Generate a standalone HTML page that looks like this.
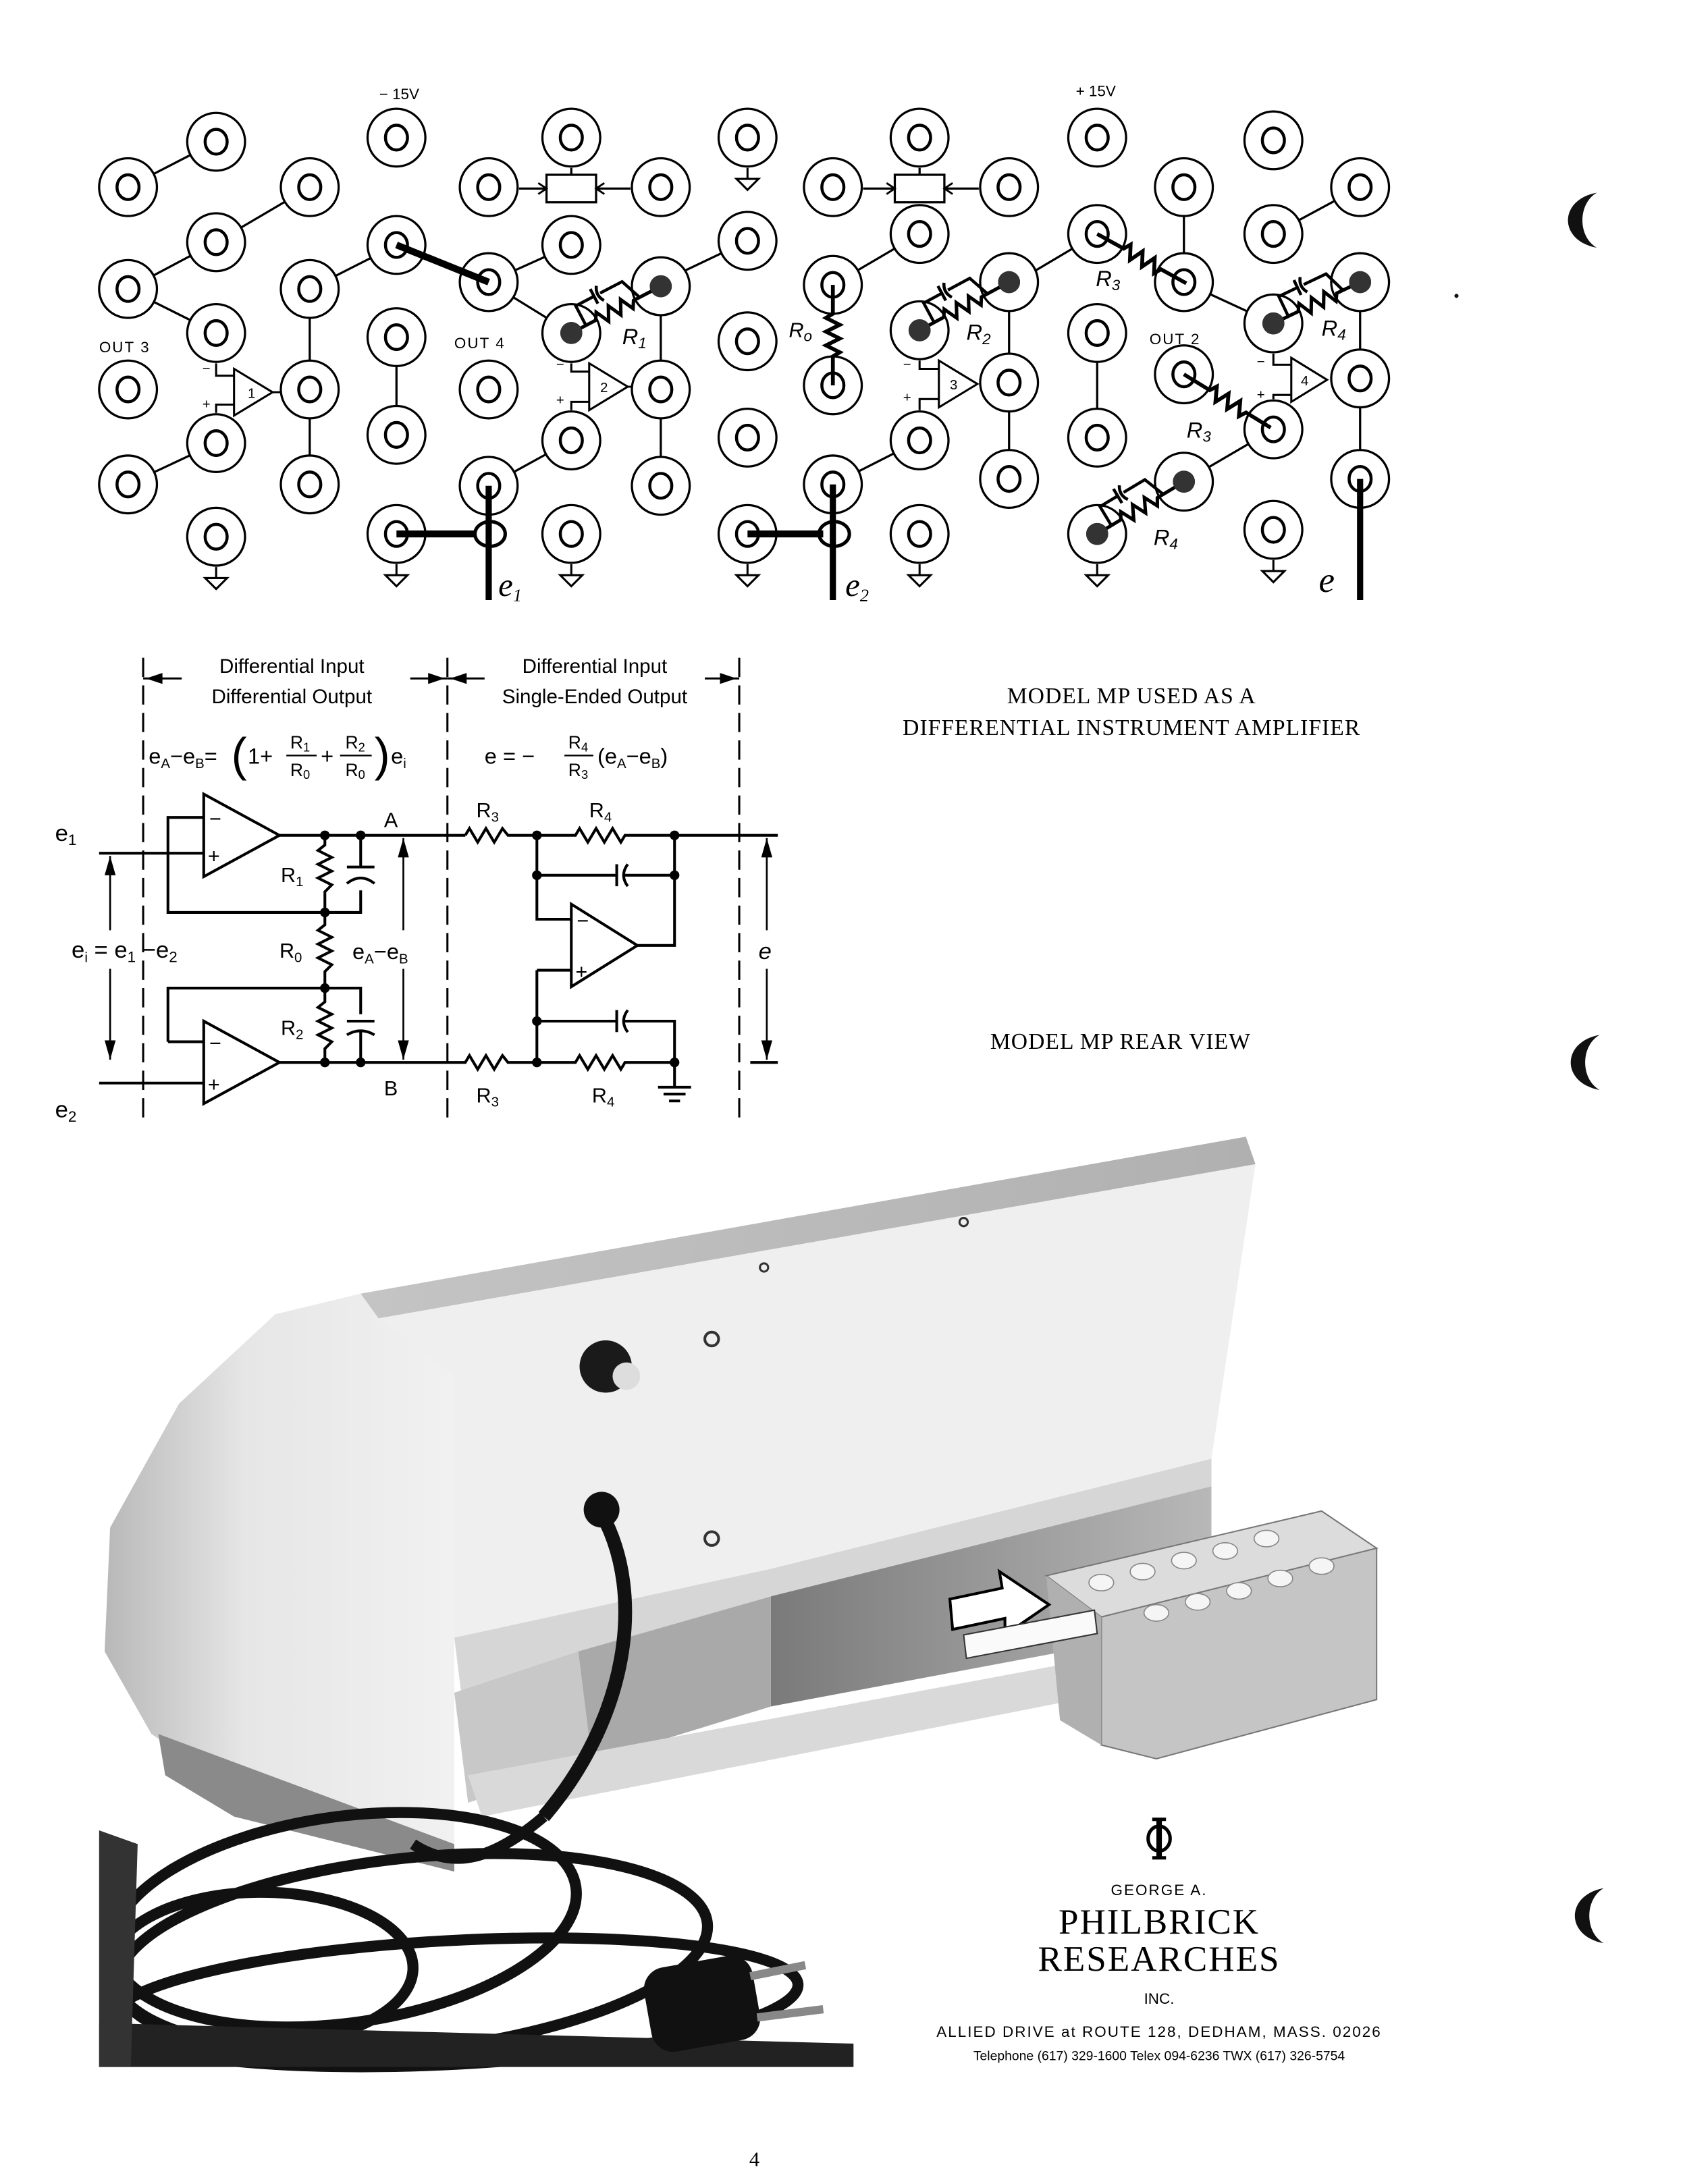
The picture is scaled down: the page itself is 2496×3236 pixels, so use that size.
<!DOCTYPE html>
<html><head><meta charset="utf-8"><style>
html,body{margin:0;padding:0;background:#fff}
svg{display:block}
text{font-family:"Liberation Sans",sans-serif}
text.sf{font-family:"Liberation Serif",serif}
</style></head><body>
<svg width="2496" height="3236" viewBox="0 0 1224 1587" preserveAspectRatio="none" xmlns="http://www.w3.org/2000/svg">
<defs>
<g id="j"><circle r="21" fill="#fff" stroke="#000" stroke-width="1.6"/><ellipse rx="8" ry="9" fill="none" stroke="#000" stroke-width="2.2"/></g>
<g id="jd"><circle r="21" fill="#fff" stroke="#000" stroke-width="1.6"/><circle r="8" fill="#333"/></g>
<g id="gnd"><line x1="0" y1="0" x2="0" y2="8" stroke="#000" stroke-width="1.5"/><path d="M-8,8 L8,8 L0,16 Z" fill="#fff" stroke="#000" stroke-width="1.5"/></g>
<g id="rc"><path d="M0,0 L20,0 L23,-5 L28,5 L33,-5 L38,5 L43,-5 L48,5 L51,0 L72,0" fill="none" stroke="#000" stroke-width="2.5"/>
<path d="M12,0 L12,-16 L27,-16 M27,-22 L27,-10 M32,-22 Q28,-16 32,-10 M32,-16 L50,-16 L56,0" fill="none" stroke="#000" stroke-width="2.2"/></g>
<g id="rz"><path d="M0,0 L22,0 L25,-5 L30,5 L35,-5 L40,5 L45,-5 L50,5 L53,0 L74,0" fill="none" stroke="#000" stroke-width="2.8"/></g>
</defs>

<!-- ===== TOP PANEL ===== -->
<text x="290" y="72" font-size="11" text-anchor="middle">− 15V</text>
<text x="796" y="70" font-size="11" text-anchor="middle">+ 15V</text>
<g stroke="#000" stroke-width="1.6">
<line x1="93" y1="136" x2="157" y2="103"/><line x1="93" y1="210" x2="157" y2="176"/><line x1="157" y1="176" x2="225" y2="136"/>
<line x1="93" y1="210" x2="157" y2="242"/><line x1="93" y1="352" x2="157" y2="322"/><line x1="225" y1="210" x2="288" y2="178"/>
<line x1="225" y1="210" x2="225" y2="352"/><line x1="288" y1="245" x2="288" y2="316"/><line x1="355" y1="205" x2="415" y2="178"/>
<line x1="355" y1="205" x2="415" y2="242"/><line x1="355" y1="353" x2="415" y2="320"/><line x1="480" y1="205" x2="543" y2="175"/>
<line x1="480" y1="208" x2="480" y2="353"/>
<line x1="605" y1="352" x2="668" y2="320"/><line x1="605" y1="207" x2="668" y2="170"/><line x1="733" y1="205" x2="733" y2="348"/>
<line x1="733" y1="208" x2="797" y2="170"/><line x1="860" y1="136" x2="860" y2="205"/><line x1="797" y1="242" x2="797" y2="318"/>
<line x1="925" y1="170" x2="988" y2="136"/><line x1="988" y1="205" x2="988" y2="348"/><line x1="860" y1="205" x2="925" y2="235"/>
<line x1="860" y1="350" x2="925" y2="312"/>
<line x1="377" y1="137" x2="397" y2="137"/><line x1="433" y1="137" x2="458" y2="137"/><line x1="415" y1="122" x2="415" y2="127"/>
<line x1="627" y1="137" x2="650" y2="137"/><line x1="686" y1="137" x2="711" y2="137"/><line x1="668" y1="122" x2="668" y2="127"/>
</g>
<rect x="397" y="127" width="36" height="20" fill="#fff" stroke="#000" stroke-width="1.6"/>
<rect x="650" y="127" width="36" height="20" fill="#fff" stroke="#000" stroke-width="1.6"/>
<path d="M391,133 L397,137 L391,141 M439,133 L433,137 L439,141 M644,133 L650,137 L644,141 M692,133 L686,137 L692,141" fill="none" stroke="#000" stroke-width="1.4"/>

<g>
<use href="#j" x="93" y="136"/><use href="#j" x="93" y="210"/><use href="#j" x="93" y="283"/><use href="#j" x="93" y="352"/>
<use href="#j" x="157" y="103"/><use href="#j" x="157" y="176"/><use href="#j" x="157" y="242"/><use href="#j" x="157" y="322"/><use href="#j" x="157" y="390"/>
<use href="#j" x="225" y="136"/><use href="#j" x="225" y="210"/><use href="#j" x="225" y="283"/><use href="#j" x="225" y="352"/>
<use href="#j" x="288" y="100"/><use href="#j" x="288" y="178"/><use href="#j" x="288" y="245"/><use href="#j" x="288" y="316"/><use href="#j" x="288" y="388"/>
<use href="#j" x="355" y="136"/><use href="#j" x="355" y="205"/><use href="#j" x="355" y="283"/><use href="#j" x="355" y="353"/>
<use href="#j" x="415" y="100"/><use href="#j" x="415" y="178"/><use href="#jd" x="415" y="242"/><use href="#j" x="415" y="320"/><use href="#j" x="415" y="388"/>
<use href="#j" x="480" y="136"/><use href="#jd" x="480" y="208"/><use href="#j" x="480" y="283"/><use href="#j" x="480" y="353"/>
<use href="#j" x="543" y="100"/><use href="#j" x="543" y="175"/><use href="#j" x="543" y="248"/><use href="#j" x="543" y="318"/><use href="#j" x="543" y="388"/>
<use href="#j" x="605" y="136"/><use href="#j" x="605" y="207"/><use href="#j" x="605" y="280"/><use href="#j" x="605" y="352"/>
<use href="#j" x="668" y="100"/><use href="#j" x="668" y="170"/><use href="#jd" x="668" y="240"/><use href="#j" x="668" y="320"/><use href="#j" x="668" y="388"/>
<use href="#j" x="733" y="136"/><use href="#jd" x="733" y="205"/><use href="#j" x="733" y="278"/><use href="#j" x="733" y="348"/>
<use href="#j" x="797" y="100"/><use href="#j" x="797" y="170"/><use href="#j" x="797" y="242"/><use href="#j" x="797" y="318"/><use href="#jd" x="797" y="388"/>
<use href="#j" x="860" y="136"/><use href="#j" x="860" y="205"/><use href="#j" x="860" y="272"/><use href="#jd" x="860" y="350"/>
<use href="#j" x="925" y="102"/><use href="#j" x="925" y="170"/><use href="#jd" x="925" y="235"/><use href="#j" x="925" y="312"/><use href="#j" x="925" y="385"/>
<use href="#j" x="988" y="136"/><use href="#jd" x="988" y="205"/><use href="#j" x="988" y="275"/><use href="#j" x="988" y="348"/>
</g>
<use href="#gnd" x="157" y="412"/><use href="#gnd" x="288" y="410"/><use href="#gnd" x="415" y="410"/><use href="#gnd" x="543" y="122"/>
<use href="#gnd" x="543" y="410"/><use href="#gnd" x="668" y="410"/><use href="#gnd" x="797" y="410"/><use href="#gnd" x="925" y="407"/>

<line x1="288" y1="178" x2="355" y2="205" stroke="#000" stroke-width="5"/>
<line x1="288" y1="388" x2="345" y2="388" stroke="#000" stroke-width="5"/>
<ellipse cx="356" cy="388" rx="11" ry="9" fill="none" stroke="#000" stroke-width="2.5"/>
<line x1="355" y1="353" x2="355" y2="436" stroke="#000" stroke-width="4.5"/>
<line x1="543" y1="388" x2="598" y2="388" stroke="#000" stroke-width="5"/>
<ellipse cx="606" cy="388" rx="11" ry="9" fill="none" stroke="#000" stroke-width="2.5"/>
<line x1="605" y1="352" x2="605" y2="436" stroke="#000" stroke-width="4.5"/>
<line x1="988" y1="348" x2="988" y2="436" stroke="#000" stroke-width="4.5"/>
<text class="sf" x="362" y="433" font-size="24" font-style="italic">e<tspan font-size="13" dy="4">1</tspan></text>
<text class="sf" x="614" y="433" font-size="24" font-style="italic">e<tspan font-size="13" dy="4">2</tspan></text>
<text class="sf" x="958" y="430" font-size="26" font-style="italic">e</text>

<path d="M605,207 L605,228 L600,231 L610,236 L600,241 L610,246 L600,251 L610,256 L605,259 L605,280" fill="none" stroke="#000" stroke-width="2.8"/>
<text x="573" y="245" font-size="15" font-style="italic">R<tspan font-size="11" dy="3">o</tspan></text>

<g transform="translate(415,242) rotate(-27.6)"><use href="#rc"/></g>
<g transform="translate(668,240) rotate(-28.3)"><use href="#rc"/></g>
<g transform="translate(925,235) rotate(-25.5)"><use href="#rc"/></g>
<g transform="translate(797,388) rotate(-31)"><use href="#rc"/></g>
<g transform="translate(797,170) rotate(29)"><use href="#rz"/></g>
<g transform="translate(860,272) rotate(31.6)"><use href="#rz"/></g>
<circle cx="480" cy="208" r="8" fill="#333"/><circle cx="733" cy="205" r="8" fill="#333"/><circle cx="988" cy="205" r="8" fill="#333"/><circle cx="860" cy="350" r="8" fill="#333"/>
<circle cx="415" cy="242" r="8" fill="#333"/><circle cx="668" cy="240" r="8" fill="#333"/><circle cx="925" cy="235" r="8" fill="#333"/><circle cx="797" cy="388" r="8" fill="#333"/>
<g font-size="16" font-style="italic">
<text x="452" y="250">R<tspan font-size="11" dy="3">1</tspan></text>
<text x="702" y="247">R<tspan font-size="11" dy="3">2</tspan></text>
<text x="796" y="208">R<tspan font-size="11" dy="3">3</tspan></text>
<text x="960" y="244">R<tspan font-size="11" dy="3">4</tspan></text>
<text x="862" y="318">R<tspan font-size="11" dy="3">3</tspan></text>
<text x="838" y="396">R<tspan font-size="11" dy="3">4</tspan></text>
</g>

<g fill="#fff" stroke="#000" stroke-width="1.5">
<path d="M170,268 L170,302 L198,285 Z"/><path d="M428,264 L428,298 L456,281 Z"/><path d="M682,262 L682,296 L710,279 Z"/><path d="M938,260 L938,292 L964,276 Z"/>
<path d="M157,264 L157,273 L170,273 M157,300 L157,294 L170,294 M198,285 L204,285" fill="none"/>
<path d="M415,264 L415,270 L428,270 M415,298 L415,292 L428,292 M456,281 L459,281" fill="none"/>
<path d="M668,262 L668,268 L682,268 M668,298 L668,290 L682,290" fill="none"/>
<path d="M925,257 L925,265 L938,265 M925,290 L925,287 L938,287" fill="none"/>
</g>
<g font-size="10"><text x="180" y="289">1</text><text x="436" y="285">2</text><text x="690" y="283">3</text><text x="945" y="280">4</text>
<text x="147" y="271">−</text><text x="147" y="297">+</text><text x="404" y="268">−</text><text x="404" y="294">+</text>
<text x="656" y="268">−</text><text x="656" y="292">+</text><text x="913" y="266">−</text><text x="913" y="290">+</text></g>
<g font-size="11" letter-spacing="1"><text x="72" y="256">OUT 3</text><text x="330" y="253">OUT 4</text><text x="835" y="250">OUT 2</text></g>

<!-- ===== SCHEMATIC ===== -->
<g stroke="#000" stroke-width="1.5" stroke-dasharray="14,6" fill="none">
<line x1="104" y1="478" x2="104" y2="812"/><line x1="325" y1="478" x2="325" y2="812"/><line x1="537" y1="478" x2="537" y2="812"/>
</g>
<g stroke="#000" stroke-width="1.5">
<line x1="104" y1="493" x2="132" y2="493"/><line x1="298" y1="493" x2="325" y2="493"/><line x1="325" y1="493" x2="352" y2="493"/><line x1="512" y1="493" x2="537" y2="493"/>
</g>
<g fill="#000"><path d="M106,493 L118,489 L118,497Z"/><path d="M323,493 L311,489 L311,497Z"/><path d="M327,493 L339,489 L339,497Z"/><path d="M535,493 L523,489 L523,497Z"/></g>
<g font-size="14.5" text-anchor="middle"><text x="212" y="489">Differential Input</text><text x="212" y="511">Differential Output</text>
<text x="432" y="489">Differential Input</text><text x="432" y="511">Single-Ended Output</text></g>
<g font-size="16">
<text x="108" y="555">e<tspan font-size="10" dy="3">A</tspan><tspan dy="-3">−e</tspan><tspan font-size="10" dy="3">B</tspan><tspan dy="-3">=</tspan></text>
<text x="168" y="560" font-size="34">(</text>
<text x="180" y="555">1+</text>
<text x="218" y="544" font-size="13" text-anchor="middle">R<tspan font-size="9" dy="2">1</tspan></text>
<line x1="208" y1="549" x2="230" y2="549" stroke="#000" stroke-width="1.2"/>
<text x="218" y="564" font-size="13" text-anchor="middle">R<tspan font-size="9" dy="2">0</tspan></text>
<text x="233" y="555">+</text>
<text x="258" y="544" font-size="13" text-anchor="middle">R<tspan font-size="9" dy="2">2</tspan></text>
<line x1="247" y1="549" x2="270" y2="549" stroke="#000" stroke-width="1.2"/>
<text x="258" y="564" font-size="13" text-anchor="middle">R<tspan font-size="9" dy="2">0</tspan></text>
<text x="272" y="560" font-size="34">)</text>
<text x="284" y="555">e<tspan font-size="10" dy="3">i</tspan></text>
<text x="352" y="555">e = −</text>
<text x="420" y="544" font-size="13" text-anchor="middle">R<tspan font-size="9" dy="2">4</tspan></text>
<line x1="410" y1="549" x2="431" y2="549" stroke="#000" stroke-width="1.2"/>
<text x="420" y="564" font-size="13" text-anchor="middle">R<tspan font-size="9" dy="2">3</tspan></text>
<text x="434" y="555">(e<tspan font-size="10" dy="3">A</tspan><tspan dy="-3">−e</tspan><tspan font-size="10" dy="3">B</tspan><tspan dy="-3">)</tspan></text>
</g>
<g fill="none" stroke="#000" stroke-width="2">
<path d="M148,577 L148,637 L203,607 Z"/>
<path d="M72,620 L148,620"/>
<path d="M148,594 L122,594 L122,663 L262,663 L262,647"/>
<path d="M203,607 L338,607"/>
<path d="M338,607 L341,602 L347,612 L353,602 L359,612 L365,602 L369,607 L418,607 L421,602 L427,612 L433,602 L439,612 L445,602 L451,612 L454,607 L565,607"/>
<path d="M236,607 L236,614 L231,618 L241,623 L231,628 L241,633 L231,638 L241,643 L236,648 L236,663"/>
<path d="M262,607 L262,630 M252,630 L272,630 M252,642 Q262,634 272,642"/>
<path d="M236,663 L236,672 L231,676 L241,681 L231,686 L241,691 L231,696 L241,701 L236,706 L236,718"/>
<path d="M122,757 L122,718 L262,718 L262,737"/>
<path d="M236,718 L236,728 L231,732 L241,737 L231,742 L241,747 L231,752 L241,757 L236,762 L236,772"/>
<path d="M252,742 L272,742 M252,752 Q262,746 272,752 M262,750 L262,772"/>
<path d="M148,742 L148,802 L203,772 Z"/>
<path d="M122,757 L148,757 M72,787 L148,787"/>
<path d="M203,772 L338,772 L341,767 L347,777 L353,767 L359,777 L365,767 L369,772 L418,772 L421,767 L427,777 L433,767 L439,777 L445,767 L451,777 L454,772 L490,772"/>
<path d="M390,607 L390,668 L415,668 M390,705 L415,705 M390,705 L390,772"/>
<path d="M415,657 L415,717 L463,687 Z"/>
<path d="M463,687 L490,687 L490,607"/>
<path d="M390,636 L448,636 M448,628 L448,644 M456,628 Q450,636 456,644 M454,636 L490,636"/>
<path d="M390,742 L448,742 M448,734 L448,750 M456,734 Q450,742 456,750 M454,742 L490,742 L490,790"/>
<path d="M478,790 L502,790 M482,795 L498,795 M486,800 L494,800"/>
<path d="M545,772 L565,772"/>
</g>
<g font-size="15"><text x="152" y="600">−</text><text x="151" y="627">+</text><text x="152" y="763">−</text><text x="151" y="793">+</text>
<text x="419" y="674">−</text><text x="418" y="711">+</text></g>
<g fill="#000"><circle cx="236" cy="607" r="3.5"/><circle cx="262" cy="607" r="3.5"/><circle cx="236" cy="663" r="3.5"/><circle cx="236" cy="718" r="3.5"/>
<circle cx="236" cy="772" r="3.5"/><circle cx="262" cy="772" r="3.5"/><circle cx="390" cy="607" r="3.5"/><circle cx="490" cy="607" r="3.5"/>
<circle cx="390" cy="636" r="3.5"/><circle cx="490" cy="636" r="3.5"/><circle cx="390" cy="742" r="3.5"/><circle cx="390" cy="772" r="3.5"/><circle cx="490" cy="772" r="3.5"/></g>
<g stroke="#000" stroke-width="1.3"><line x1="80" y1="622" x2="80" y2="676"/><line x1="80" y1="704" x2="80" y2="770"/>
<line x1="293" y1="609" x2="293" y2="676"/><line x1="293" y1="704" x2="293" y2="770"/>
<line x1="557" y1="609" x2="557" y2="676"/><line x1="557" y1="704" x2="557" y2="770"/></g>
<g fill="#000"><path d="M80,622 L76,636 L84,636Z"/><path d="M80,770 L76,756 L84,756Z"/><path d="M293,609 L289,623 L297,623Z"/><path d="M293,770 L289,756 L297,756Z"/>
<path d="M557,609 L553,623 L561,623Z"/><path d="M557,770 L553,756 L561,756Z"/></g>
<g font-size="15">
<text x="40" y="611" font-size="17">e<tspan font-size="11" dy="3">1</tspan></text>
<text x="40" y="812" font-size="17">e<tspan font-size="11" dy="3">2</tspan></text>
<text x="52" y="696" font-size="17">e<tspan font-size="10" dy="3">i</tspan><tspan dy="-3"> = e</tspan><tspan font-size="11" dy="3">1</tspan><tspan dy="-3"> −e</tspan><tspan font-size="11" dy="3">2</tspan></text>
<text x="204" y="641">R<tspan font-size="10" dy="3">1</tspan></text>
<text x="203" y="696">R<tspan font-size="10" dy="3">0</tspan></text>
<text x="204" y="752">R<tspan font-size="10" dy="3">2</tspan></text>
<text x="256" y="697" font-size="16">e<tspan font-size="10" dy="3">A</tspan><tspan dy="-3">−e</tspan><tspan font-size="10" dy="3">B</tspan></text>
<text x="279" y="601">A</text><text x="279" y="796">B</text>
<text x="346" y="594">R<tspan font-size="10" dy="3">3</tspan></text><text x="428" y="594">R<tspan font-size="10" dy="3">4</tspan></text>
<text x="346" y="801">R<tspan font-size="10" dy="3">3</tspan></text><text x="430" y="801">R<tspan font-size="10" dy="3">4</tspan></text>
<text x="551" y="697" font-size="17" font-style="italic">e</text>
</g>

<g font-size="16.5" text-anchor="middle" letter-spacing="0.5">
<text class="sf" x="822" y="511">MODEL MP USED AS A</text>
<text class="sf" x="822" y="534">DIFFERENTIAL INSTRUMENT AMPLIFIER</text>
<text class="sf" x="814" y="762">MODEL MP REAR VIEW</text>
</g>

<!-- ===== PHOTO ===== -->
<defs>
<linearGradient id="lg" x1="0" y1="0" x2="1" y2="0"><stop offset="0" stop-color="#b8b8b8"/><stop offset="0.4" stop-color="#e6e6e6"/><stop offset="1" stop-color="#f1f1f1"/></linearGradient>
<linearGradient id="tg" x1="0" y1="0" x2="1" y2="0"><stop offset="0" stop-color="#c4c4c4"/><stop offset="1" stop-color="#b0b0b0"/></linearGradient>
<linearGradient id="sg" x1="0" y1="0" x2="1" y2="0"><stop offset="0" stop-color="#7a7a7a"/><stop offset="1" stop-color="#b8b8b8"/></linearGradient>
</defs>
<polygon points="262,940 200,955 130,1020 80,1110 76,1200 110,1260 170,1300 330,1340 330,1000 275,955" fill="url(#lg)"/>
<polygon points="262,940 905,826 912,846 275,958" fill="url(#tg)"/>
<polygon points="275,958 912,846 880,1060 560,1140 330,1190 330,1000" fill="#efefef"/>
<polygon points="330,1190 560,1140 880,1060 880,1080 560,1160 420,1200 335,1230" fill="#d6d6d6"/>
<polygon points="560,1160 880,1080 880,1180 560,1240" fill="url(#sg)"/>
<polygon points="420,1200 560,1160 560,1240 430,1280" fill="#a9a9a9"/>
<polygon points="330,1230 420,1200 430,1280 340,1310" fill="#c8c8c8"/>
<polygon points="340,1290 930,1180 935,1205 350,1320" fill="#d9d9d9"/>
<polygon points="115,1260 330,1340 330,1360 170,1320 120,1290" fill="#8a8a8a"/>
<circle cx="440" cy="993" r="19" fill="#1a1a1a"/><circle cx="455" cy="1000" r="10" fill="#ddd"/>
<circle cx="517" cy="973" r="5" fill="none" stroke="#333" stroke-width="2"/>
<circle cx="517" cy="1118" r="5" fill="none" stroke="#333" stroke-width="2"/>
<circle cx="555" cy="921" r="3" fill="none" stroke="#333" stroke-width="1.5"/>
<circle cx="700" cy="888" r="3" fill="none" stroke="#333" stroke-width="1.5"/>
<polygon points="760,1145 960,1098 1000,1125 800,1175" fill="#dcdcdc" stroke="#777" stroke-width="1"/>
<polygon points="800,1175 1000,1125 1000,1235 840,1278 800,1268" fill="#c5c5c5" stroke="#777" stroke-width="1"/>
<polygon points="760,1145 800,1175 800,1268 770,1250" fill="#b0b0b0"/>
<g fill="#f5f5f5" stroke="#888" stroke-width="0.8">
<ellipse cx="800" cy="1150" rx="9" ry="6"/><ellipse cx="830" cy="1142" rx="9" ry="6"/><ellipse cx="860" cy="1134" rx="9" ry="6"/><ellipse cx="890" cy="1127" rx="9" ry="6"/><ellipse cx="920" cy="1118" rx="9" ry="6"/>
<ellipse cx="840" cy="1172" rx="9" ry="6"/><ellipse cx="870" cy="1164" rx="9" ry="6"/><ellipse cx="900" cy="1156" rx="9" ry="6"/><ellipse cx="930" cy="1147" rx="9" ry="6"/><ellipse cx="960" cy="1138" rx="9" ry="6"/></g>
<polygon points="690,1162 728,1154 726,1142 762,1166 730,1188 730,1176 692,1184" fill="#fff" stroke="#000" stroke-width="2"/>
<polygon points="700,1188 795,1170 797,1187 702,1205" fill="#fafafa" stroke="#333" stroke-width="1"/>
<circle cx="437" cy="1097" r="13" fill="#111"/>
<path d="M437,1100 C470,1160 455,1250 395,1320" fill="none" stroke="#111" stroke-width="10"/>
<g fill="none" stroke="#111" stroke-width="8">
<ellipse cx="250" cy="1395" rx="170" ry="75" transform="rotate(-8 250 1395)"/>
<ellipse cx="300" cy="1420" rx="215" ry="70" transform="rotate(-6 300 1420)"/>
<ellipse cx="190" cy="1430" rx="110" ry="55"/>
<ellipse cx="330" cy="1455" rx="250" ry="45" transform="rotate(-3 330 1455)"/>
<path d="M395,1320 C360,1350 330,1360 300,1340"/>
</g>
<polygon points="72,1470 620,1485 620,1502 72,1502" fill="#222"/>
<polygon points="72,1330 100,1340 95,1502 72,1502" fill="#333"/>
<rect x="470" y="1425" width="80" height="62" rx="16" fill="#111" transform="rotate(-10 510 1456)"/>
<g stroke="#888" stroke-width="6"><line x1="545" y1="1436" x2="585" y2="1428"/><line x1="550" y1="1466" x2="598" y2="1460"/></g>

<g fill="none" stroke="#000" stroke-width="2.5"><ellipse cx="842" cy="1336" rx="8" ry="9"/><line x1="842" y1="1322" x2="842" y2="1350" stroke-width="4"/><line x1="837" y1="1322" x2="847" y2="1322"/><line x1="837" y1="1350" x2="847" y2="1350"/></g>
<text x="842" y="1377" font-size="11" text-anchor="middle" letter-spacing="1">GEORGE A.</text>
<text class="sf" x="842" y="1405" font-size="26" text-anchor="middle" letter-spacing="1">PHILBRICK</text>
<text class="sf" x="842" y="1432" font-size="26" text-anchor="middle" letter-spacing="1">RESEARCHES</text>
<text x="842" y="1456" font-size="11" text-anchor="middle">INC.</text>
<text x="842" y="1480" font-size="11" text-anchor="middle" letter-spacing="1">ALLIED DRIVE at ROUTE 128, DEDHAM, MASS. 02026</text>
<text x="842" y="1497" font-size="9.5" text-anchor="middle">Telephone (617) 329-1600     Telex 094-6236     TWX (617) 326-5754</text>
<text class="sf" x="548" y="1574" font-size="15" text-anchor="middle">4</text>

<g fill="#111"><path d="M1160,140 C1132,145 1132,175 1160,180 C1146,172 1146,148 1160,140Z"/>
<path d="M1162,752 C1134,757 1134,787 1162,792 C1148,784 1148,760 1162,752Z"/>
<path d="M1165,1372 C1137,1377 1137,1407 1165,1412 C1151,1404 1151,1380 1165,1372Z"/>
<circle cx="1058" cy="215" r="1.5"/></g>
</svg>
</body></html>
